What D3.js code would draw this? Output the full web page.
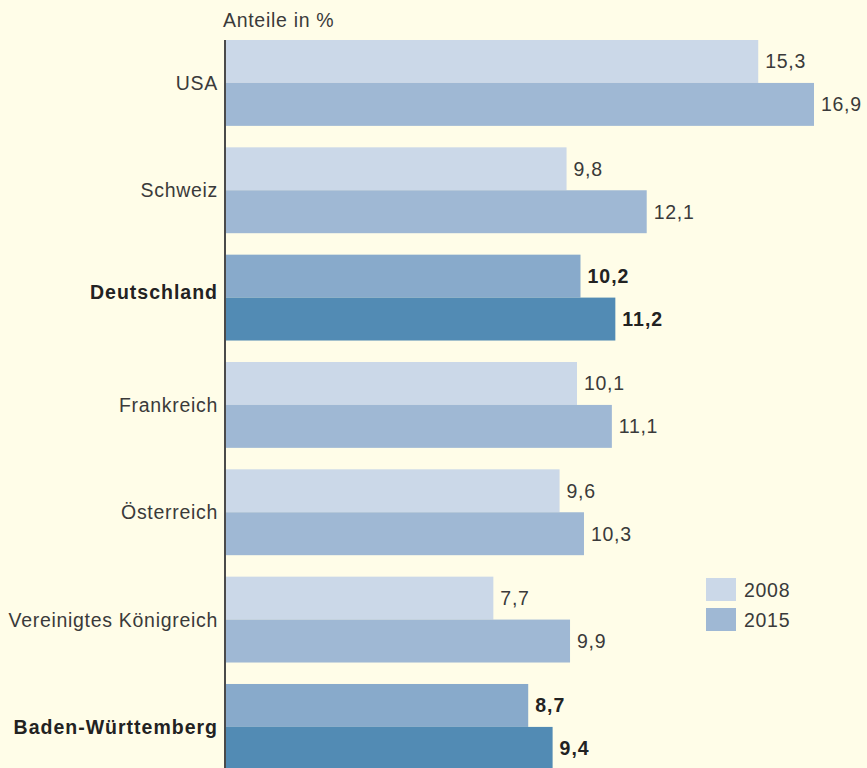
<!DOCTYPE html>
<meta charset="utf-8">
<style>
body{ margin:0; background:#fffde8; }
text{ font-family:"Liberation Sans", Arial, sans-serif; fill:#3a3a3a; }
.lbl{ font-size:19.5px; letter-spacing:0.7px; }
.bold{ font-weight:bold; fill:#222; letter-spacing:1px; }
</style>
<svg id="chart" width="867" height="768"></svg>
<script src="https://d3js.org/d3.v7.min.js"></script>
<script>

var countries = ["USA","Schweiz","Deutschland","Frankreich","Österreich","Vereinigtes Königreich","Baden-Württemberg"];
var highlight = ["Deutschland","Baden-Württemberg"];
var years = ["2008","2015"];
var values2008 = [15.3, 9.8, 10.2, 10.1, 9.6, 7.7, 8.7];
var values2015 = [16.9, 12.1, 11.2, 11.1, 10.3, 9.9, 9.4];

var svg = d3.select("#chart"),
    width = +svg.attr("width"),
    height = +svg.attr("height");

svg.append("rect").attr("width",width).attr("height",height).attr("fill","#fffde8");

var x0 = 225;
var x = d3.scaleLinear().domain([0,16.9]).range([x0, 814]);

var step = 107.33;
var y = d3.scaleBand()
  .domain(countries)
  .range([40 - 0.1*step, 40 + 6.9*step])
  .paddingInner(0.2)
  .paddingOuter(0.1);

var ySub = d3.scaleBand().domain(years).range([0, y.bandwidth()]);

var colors = {"2008":"#cbd8e8","2015":"#9fb8d4"};
var colorsHi = {"2008":"#88aacb","2015":"#528bb4"};

var data = countries.map(function(c,i){
  return {name:c, hi: highlight.indexOf(c) >= 0,
          vals:[{year:"2008", v:values2008[i]},{year:"2015", v:values2015[i]}]};
});

var fmt = function(v){ return d3.format(".1f")(v).replace(".",","); };

var g = svg.selectAll(".grp").data(data).enter().append("g")
  .attr("class","grp")
  .attr("transform", function(d){ return "translate(0," + y(d.name) + ")"; });

g.selectAll("rect").data(function(d){ return d.vals.map(function(e){ return {hi:d.hi, year:e.year, v:e.v}; }); })
  .enter().append("rect")
  .attr("x", x0)
  .attr("y", function(d){ return ySub(d.year); })
  .attr("width", function(d){ return x(d.v) - x0; })
  .attr("height", ySub.bandwidth())
  .attr("fill", function(d){ return d.hi ? colorsHi[d.year] : colors[d.year]; });

g.selectAll(".val").data(function(d){ return d.vals.map(function(e){ return {hi:d.hi, year:e.year, v:e.v}; }); })
  .enter().append("text")
  .attr("class", function(d){ return "lbl val" + (d.hi ? " bold" : ""); })
  .attr("x", function(d){ return x(d.v) + 7; })
  .attr("y", function(d){ return ySub(d.year) + ySub.bandwidth()/2; })
  .attr("dy", "0.36em")
  .text(function(d){ return fmt(d.v); });

// category labels (Deutschland sits a bit higher in the original)
g.append("text")
  .attr("class", function(d){ return "lbl" + (d.hi ? " bold" : ""); })
  .attr("x", 218)
  .attr("y", function(d){ return y.bandwidth()/2 - (d.name == "Deutschland" ? 6 : 0); })
  .attr("dy", "0.36em")
  .attr("text-anchor","end")
  .text(function(d){ return d.name; });

// axis line
svg.append("line")
  .attr("x1", x0).attr("x2", x0)
  .attr("y1", 40).attr("y2", height)
  .attr("stroke","#4a4a4a").attr("stroke-width",2);

svg.append("text")
  .attr("class","lbl")
  .attr("x", 223).attr("y", 27)
  .text("Anteile in %");

// legend
var leg = svg.selectAll(".leg").data(years).enter().append("g")
  .attr("class","leg")
  .attr("transform", function(d,i){ return "translate(706," + (578 + i*30) + ")"; });
leg.append("rect").attr("width",30).attr("height",23)
  .attr("fill", function(d){ return colors[d]; });
leg.append("text").attr("class","lbl")
  .attr("x", 38).attr("y", 11.5).attr("dy","0.36em")
  .text(function(d){ return d; });

</script>
